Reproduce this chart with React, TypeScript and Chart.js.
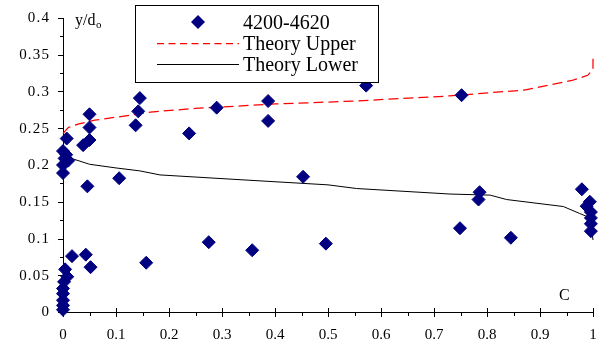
import React, { useEffect, useRef } from 'react';
import { Chart, registerables } from 'chart.js';

Chart.register(...registerables);

// Measured samples (C, y/do)
const sampleC = [
  0.007, 0.0, 0.006, 0.01, 0.003, 0.0, 0.0, 0.038, 0.05, 0.05, 0.05, 0.046,
  0.106, 0.137, 0.142, 0.145, 0.238, 0.29, 0.387, 0.387, 0.453, 0.572, 0.752,
  0.786, 0.784, 0.979, 0.994, 0.988, 0.996, 0.996, 0.996, 0.996, 0.749, 0.845,
  0.496, 0.357, 0.275, 0.157, 0.052, 0.043, 0.017, 0.004, 0.008, 0.002, 0.0,
  0.0, 0.0, 0.0, 0.0,
];
const sampleY = [
  0.236, 0.219, 0.214, 0.206, 0.209, 0.2, 0.189, 0.227, 0.269, 0.251, 0.234,
  0.171, 0.182, 0.254, 0.273, 0.291, 0.243, 0.278, 0.287, 0.26, 0.184, 0.308,
  0.295, 0.163, 0.153, 0.167, 0.15, 0.144, 0.136, 0.128, 0.12, 0.11, 0.114,
  0.101, 0.093, 0.084, 0.095, 0.067, 0.061, 0.078, 0.076, 0.058, 0.048, 0.041,
  0.032, 0.025, 0.016, 0.009, 0.003,
];

// Theory curves
const upperC = [0, 0.01, 0.03, 0.06, 0.1, 0.165, 0.25, 0.4, 0.55, 0.73, 0.87, 0.96, 0.99, 1.0, 1.0];
const upperY = [0.243, 0.251, 0.256, 0.261, 0.265, 0.272, 0.277, 0.283, 0.287, 0.294, 0.302, 0.315, 0.322, 0.33, 0.345];
const lowerC = [0.004, 0.02, 0.05, 0.1, 0.145, 0.183, 0.334, 0.5, 0.554, 0.73, 0.806, 0.837, 0.944, 0.975, 0.995, 1.0];
const lowerY = [0.215, 0.208, 0.201, 0.196, 0.192, 0.1865, 0.18, 0.173, 0.168, 0.1605, 0.159, 0.153, 0.1435, 0.134, 0.128, 0.098];

const seriesNames = ['4200-4620', 'Theory Upper', 'Theory Lower'];
const xTitle = 'C';
const yTitleMain = 'y/d';
const yTitleSub = 'o';

const FONT = "'Liberation Serif', 'Times New Roman', serif";
const NAVY = '#000080';

const fmt = (v: number) => String(Number(Number(v).toFixed(3)));

const overlay = {
  id: 'overlay',
  beforeDatasetsDraw(chart: any) {
    const ctx = chart.ctx;
    const xs = chart.scales.x;
    const ys = chart.scales.y;
    ctx.save();
    ctx.strokeStyle = '#000';
    ctx.lineWidth = 1;
    // y ticks (major 0.05, minor 0.025)
    for (let i = 0; i <= 16; i++) {
      const py = Math.round(ys.getPixelForValue(i * 0.025)) + 0.5;
      const major = i % 2 === 0;
      ctx.beginPath();
      ctx.moveTo(xs.left - (major ? 5 : 3), py);
      ctx.lineTo(xs.left, py);
      ctx.stroke();
    }
    // x ticks (major 0.1 crossing, minor 0.05 below)
    for (let i = 0; i <= 20; i++) {
      const px = Math.round(xs.getPixelForValue(i * 0.05)) + 0.5;
      const major = i % 2 === 0;
      ctx.beginPath();
      ctx.moveTo(px, major ? ys.bottom - 4 : ys.bottom);
      ctx.lineTo(px, ys.bottom + (major ? 5 : 4));
      ctx.stroke();
    }
    // y tick labels (from the library's own ticks)
    ctx.fillStyle = '#000';
    ctx.font = `15px ${FONT}`;
    ctx.textAlign = 'right';
    ctx.textBaseline = 'middle';
    (ctx as any).letterSpacing = '1.2px';
    for (const t of ys.ticks) {
      const py = ys.getPixelForValue(t.value);
      ctx.fillText(fmt(t.value), 50.2, py + 0.5);
    }
    (ctx as any).letterSpacing = '0px';
    ctx.restore();
  },
  afterDraw(chart: any) {
    const ctx = chart.ctx;
    const ds = chart.data.datasets;
    ctx.save();
    // axis titles
    ctx.fillStyle = '#000';
    ctx.textBaseline = 'alphabetic';
    ctx.textAlign = 'left';
    ctx.font = `16px ${FONT}`;
    ctx.fillText(yTitleMain, 75, 24.5);
    const w = ctx.measureText(yTitleMain).width;
    ctx.font = `11px ${FONT}`;
    ctx.fillText(yTitleSub, 75 + w + 0.5, 27.5);
    ctx.font = `16px ${FONT}`;
    ctx.fillText(xTitle, 559, 300);

    // legend
    const bx = 135.5, by = 5.5, bw = 243, bh = 77;
    ctx.fillStyle = '#fff';
    ctx.fillRect(bx, by, bw, bh);
    ctx.strokeStyle = '#000';
    ctx.lineWidth = 1;
    ctx.strokeRect(bx, by, bw, bh);

    const textX = 243;
    const rows = [28.5, 49.5, 70.5];
    const mx = 198, my = 22;
    ctx.fillStyle = ds[0].backgroundColor;
    ctx.beginPath();
    ctx.moveTo(mx, my - 7);
    ctx.lineTo(mx + 7, my);
    ctx.lineTo(mx, my + 7);
    ctx.lineTo(mx - 7, my);
    ctx.closePath();
    ctx.fill();
    const lineYs = [43.5, 64.5];
    for (let k = 1; k <= 2; k++) {
      ctx.beginPath();
      ctx.strokeStyle = ds[k].borderColor;
      ctx.lineWidth = ds[k].borderWidth;
      ctx.setLineDash(k === 1 ? [7, 4.5] : []);
      ctx.moveTo(157, lineYs[k - 1]);
      ctx.lineTo(239, lineYs[k - 1]);
      ctx.stroke();
    }
    ctx.setLineDash([]);
    ctx.fillStyle = '#000';
    ctx.font = `20px ${FONT}`;
    for (let k = 0; k < 3; k++) {
      ctx.fillText(ds[k].label, textX, rows[k]);
    }
    ctx.restore();
  },
};

export default function App() {
  const ref = useRef<HTMLCanvasElement | null>(null);
  useEffect(() => {
    if (!ref.current) return;
    const chart = new Chart(ref.current, {
      type: 'scatter',
      data: {
        datasets: [
          {
            label: seriesNames[0],
            data: sampleC.map((c, i) => ({ x: c, y: sampleY[i] })),
            pointStyle: 'rectRot',
            pointRadius: 6.5,
            pointHoverRadius: 6.5,
            backgroundColor: NAVY,
            borderColor: NAVY,
            borderWidth: 1,
            showLine: false,
            clip: false,
          },
          {
            label: seriesNames[1],
            data: upperC.map((c, i) => ({ x: c, y: upperY[i] })),
            showLine: true,
            borderColor: '#ff0000',
            backgroundColor: '#ff0000',
            borderWidth: 1.25,
            borderDash: [10, 5],
            pointRadius: 0,
            tension: 0,
            clip: false,
          },
          {
            label: seriesNames[2],
            data: lowerC.map((c, i) => ({ x: c, y: lowerY[i] })),
            showLine: true,
            borderColor: '#000000',
            backgroundColor: '#000000',
            borderWidth: 1,
            pointRadius: 0,
            tension: 0,
            clip: false,
          },
        ],
      },
      options: {
        responsive: false,
        animation: false,
        events: [],
        layout: { padding: { top: 18, right: 23, left: 0, bottom: 0 } },
        plugins: { legend: { display: false }, tooltip: { enabled: false } },
        scales: {
          x: {
            type: 'linear',
            min: 0,
            max: 1,
            grid: { display: false, drawTicks: false },
            border: { display: true, color: '#000', width: 1 },
            ticks: {
              stepSize: 0.1,
              padding: 14,
              color: '#000',
              maxRotation: 0,
              autoSkip: false,
              font: { family: FONT, size: 15 },
              callback: (v: any) => fmt(v),
            },
            afterFit: (s: any) => {
              s.height = 31;
            },
          },
          y: {
            type: 'linear',
            min: 0,
            max: 0.4,
            grid: { display: false, drawTicks: false },
            border: { display: true, color: '#000', width: 1 },
            ticks: {
              display: false,
              stepSize: 0.05,
              autoSkip: false,
              font: { family: FONT, size: 15 },
              callback: (v: any) => fmt(v),
            },
            afterFit: (s: any) => {
              s.width = 63;
            },
          },
        },
      },
      plugins: [overlay],
    } as any);
    return () => chart.destroy();
  }, []);
  return (
    <div style={{ position: 'fixed', left: 0, top: 0, width: 616, height: 343, background: '#fff' }}>
      <canvas ref={ref} width={616} height={343} style={{ display: 'block' }} />
    </div>
  );
}
